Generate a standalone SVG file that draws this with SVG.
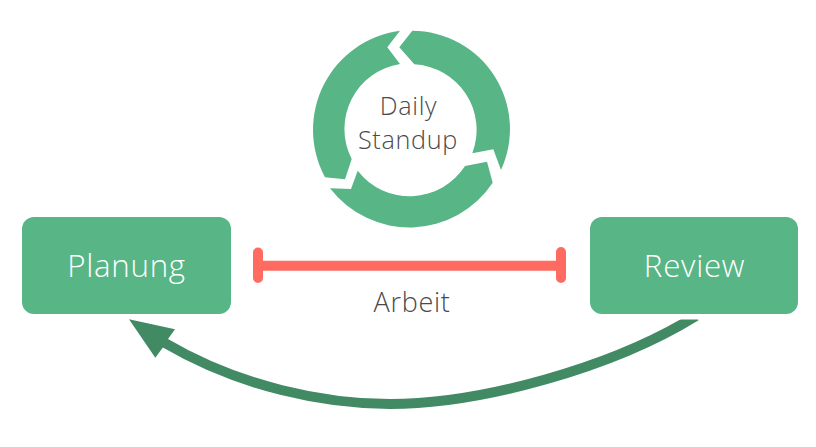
<svg xmlns="http://www.w3.org/2000/svg" width="816" height="447" viewBox="0 0 816 447">
<style>
.box{fill:#57b586}
.seg{fill:#57b586}
text{font-family:"Open Sans","Noto Sans",sans-serif;text-anchor:middle;font-weight:300;letter-spacing:.7px}
.w{fill:#fff;font-size:31.3px}
.d{fill:#4a4a4a;font-size:25.2px}
.bar{stroke:#ff6b61;fill:none;stroke-linecap:round}
</style>
<defs><clipPath id="below"><rect x="0" y="319.500" width="816" height="127.500"/></clipPath></defs>
<rect width="816" height="447" fill="#fff"/>
<g id="standup">
<path class="seg" d="M412.3 30.7L399.3 47.3L414.3 64.3A65.7 65.7 0 0 1 472.3 153.3L493.3 149.3L501 170A98.3 98.3 0 0 0 412.3 30.7Z"/>
<path class="seg" d="M492.7 182.7L487 161.7L465 166A65.7 65.7 0 0 1 357.7 170.7L351 189L330 188.3A100 100 0 0 0 492.7 182.7Z"/>
<path class="seg" d="M325 177.3L345 179.3L351.7 159A65.7 65.7 0 0 1 400 64L387.3 47.3L400 30.7A100 100 0 0 0 325 177.3Z"/>
<text class="d" x="408.500" y="115">Daily</text>
<text class="d" x="408" y="149">Standup</text>
</g>
<g id="planung">
<rect class="box" x="22" y="217" width="209" height="97" rx="12"/>
<text class="w" x="126.500" y="277">Planung</text>
</g>
<g id="review">
<rect class="box" x="590" y="217" width="208" height="97" rx="12"/>
<text class="w" x="694.500" y="277">Review</text>
</g>
<g id="connectors">
<g class="bar">
<path d="M258 265.800H561" stroke-width="10" stroke-linecap="butt"/>
<path d="M258 252.500V278M561 252V278" stroke-width="10"/>
</g>
<path d="M696 316C612 368 480 404 390 404C325 404 240 387 165 343" fill="none" stroke="#428a64" stroke-width="10" clip-path="url(#below)"/>
<path d="M129 319.300L175 329.300L168 339L162.700 347.700L155.300 357.700Z" fill="#428a64"/>
</g>
<text class="d" x="412" y="312" style="font-size:27px">Arbeit</text>
</svg>
